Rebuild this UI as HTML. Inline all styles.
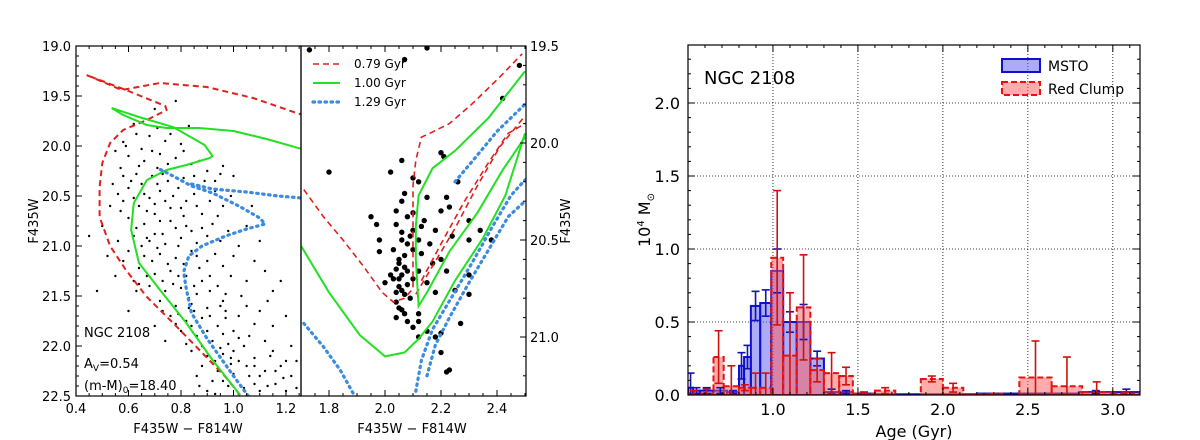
<!DOCTYPE html>
<html><head><meta charset="utf-8"><style>
body{margin:0;background:#fff}
svg{display:block;font-family:"DejaVu Sans","Liberation Sans",sans-serif}
</style></head><body>
<svg id="fig" width="1200" height="440" viewBox="0 0 1200 440">
<defs>
<clipPath id="clipL"><rect x="76" y="46" width="225" height="350"/></clipPath>
<clipPath id="clipR"><rect x="301" y="46" width="225" height="350"/></clipPath>
<clipPath id="clipH"><rect x="688" y="45" width="452" height="350"/></clipPath>
</defs>
<g id="gL"></g>
<g id="gR"></g>
<g id="gH"></g>
</svg>
<script>
// ---------- data ----------
const leftTickX=[0.4,0.6,0.8,1.0,1.2];
const leftTickY=[19.0,19.5,20.0,20.5,21.0,21.5,22.0,22.5];
const rightTickX=[1.8,2.0,2.2,2.4];
const rightTickY=[19.5,20.0,20.5,21.0];
const histTickX=[1.0,1.5,2.0,2.5,3.0];
const histTickY=[0.0,0.5,1.0,1.5,2.0];

const leftStars=[[0.78,19.55],[0.7,19.63],[0.83,19.8],[0.62,19.78],[0.68,19.9],[0.74,19.95],[0.58,19.96],[0.8,19.98],[0.65,20.03],
[0.55,20.05],[0.6,20.1],[0.66,20.15],[0.72,20.08],[0.78,20.12],[0.84,20.18],[0.9,20.25],[0.57,20.22],[0.63,20.28],[0.69,20.3],[0.75,20.35],[0.81,20.32],[0.87,20.4],[0.93,20.45],[0.6,20.42],[0.66,20.48],[0.72,20.45],[0.54,20.38],[1.0,20.3],[0.96,20.2],
[0.58,20.55],[0.64,20.6],[0.7,20.58],[0.76,20.62],[0.82,20.55],[0.88,20.68],[0.94,20.7],[0.6,20.72],[0.66,20.78],[0.72,20.75],[0.78,20.82],[0.84,20.85],[0.9,20.9],[0.62,20.9],[0.68,20.95],[0.74,20.98],[0.8,20.92],[0.86,20.97],[1.05,20.8],[0.5,20.8],[0.56,20.95],[0.96,20.6],[1.1,20.95],
[0.6,21.05],[0.66,21.1],[0.72,21.08],[0.78,21.12],[0.84,21.05],[0.9,21.15],[0.96,21.2],[0.64,21.22],[0.7,21.28],[0.76,21.25],[0.82,21.3],[0.88,21.35],[0.94,21.4],[0.68,21.4],[0.74,21.45],[0.8,21.42],[0.86,21.48],[1.0,21.1],[1.05,21.35],[0.55,21.3],[0.48,21.45],[1.12,21.25],
[0.72,21.55],[0.78,21.6],[0.84,21.58],[0.9,21.62],[0.96,21.55],[1.02,21.7],[0.76,21.7],[0.82,21.75],[0.88,21.72],[0.94,21.8],[1.0,21.85],[0.8,21.85],[0.86,21.9],[0.92,21.95],[0.98,21.98],[1.06,21.9],[1.1,21.65],[0.7,21.8],[0.6,21.65],[1.15,21.8],[0.74,21.95],
[0.84,22.05],[0.9,22.1],[0.96,22.08],[1.02,22.15],[1.08,22.12],[0.88,22.2],[0.94,22.25],[1.0,22.28],[1.06,22.3],[1.12,22.25],[0.92,22.35],[0.98,22.4],[1.04,22.42],[1.1,22.45],[1.16,22.38],[1.22,22.3],[1.2,22.45],[0.86,22.3],[1.14,22.1],[0.9,22.45],[1.18,22.2],[0.95,22.02],
[0.64,20.2],[0.71,20.22],[0.77,20.5],[0.85,20.3],[0.67,20.65],[0.73,20.88],[0.79,21.0],[0.87,21.22],[0.83,21.62],[0.97,21.65],[1.04,22.0],[0.99,22.18],[1.08,22.38],[0.62,21.35],[0.53,20.6],[0.81,20.7],[0.91,21.3],[0.77,21.38],[0.69,21.15],[0.61,20.35],
[0.63,19.88],[0.71,19.82],[0.76,19.88],[0.59,20.0],[0.69,20.05],[0.75,20.18],[0.81,20.05],[0.87,20.15],[0.93,20.35],[0.58,20.3],[0.65,20.38],[0.71,20.38],[0.79,20.42],[0.85,20.48],[0.91,20.55],[0.99,20.5],[0.56,20.48],[0.62,20.52],[0.68,20.52],[0.74,20.55],[0.8,20.62],[0.86,20.6],[0.92,20.78],[0.98,20.85],[0.57,20.65],[0.63,20.82],[0.7,20.68],[0.76,20.75],[0.82,20.8],[0.88,20.82],[0.95,20.95],[1.02,21.0],[0.58,21.15],[0.65,21.0],[0.71,21.02],[0.75,21.18],[0.81,21.18],[0.86,21.1],[0.93,21.08],[0.99,21.3],[1.08,21.15],[0.63,21.45],[0.67,21.3],[0.73,21.35],[0.79,21.3],[0.85,21.4],[0.91,21.45],[0.97,21.48],[1.03,21.5],[1.15,21.45],[0.73,21.65],[0.79,21.68],[0.85,21.65],[0.91,21.7],[0.97,21.72],[1.05,21.6],[1.08,21.78],[1.2,21.7],[0.78,21.78],[0.84,21.8],[0.9,21.85],[0.96,21.88],[1.02,21.92],[1.12,21.95],[1.22,22.0],[0.82,21.98],[0.88,22.0],[0.93,22.15],[0.99,22.12],[1.05,22.2],[1.1,22.3],[1.16,22.25],[1.24,22.15],[0.96,22.35],[1.02,22.48],[1.08,22.2],[1.13,22.4],[1.19,22.32],[1.24,22.42],[0.87,22.4],[0.93,22.48],[1.0,22.05],[1.15,22.05],[1.2,22.15],[0.7,20.88],[0.64,21.38],[1.07,20.6],[1.13,21.55],[0.52,21.1],[0.45,20.9],[1.18,21.35],[0.89,20.35],[0.95,20.28],[0.73,20.28],[0.67,20.92],[0.83,21.52],[0.95,21.6]];

const rightStars=[[1.73,19.52],[2.15,19.51],[2.07,19.57],[2.48,19.6],[2.42,19.77],[1.8,20.15],[2.02,20.15],[2.06,20.09],[2.2,20.05],[2.21,20.07],[2.26,20.2],[2.1,20.18],[2.12,20.2],[2.15,20.28],[2.22,20.28],[2.23,20.33],[2.07,20.26],[2.06,20.3],[2.04,20.35],[2.08,20.38],[2.1,20.36],[2.13,20.43],[2.14,20.4],[2.18,20.45],[2.2,20.35],[2.3,20.4],[2.34,20.45],[1.95,20.38],[1.97,20.42],[2.04,20.42],[2.06,20.46],[2.09,20.48],[2.12,20.5],[2.16,20.52],[2.24,20.48],[2.3,20.5],[2.38,20.5],[1.98,20.5],[1.98,20.56],[2.03,20.55],[2.05,20.6],[2.07,20.58],[2.1,20.55],[2.13,20.57],[2.17,20.62],[2.2,20.6],[2.04,20.65],[2.06,20.68],[2.08,20.66],[2.1,20.7],[2.12,20.66],[2.22,20.66],[2.0,20.72],[2.03,20.7],[2.05,20.74],[2.07,20.78],[2.09,20.8],[2.15,20.72],[2.18,20.77],[2.25,20.76],[2.3,20.78],[2.04,20.82],[2.06,20.86],[2.12,20.92],[2.08,20.92],[2.1,20.95],[2.15,20.97],[2.2,20.98],[2.18,21.0],[2.12,21.0],[2.2,21.08],[2.22,21.18],[2.23,21.17],[2.04,20.9],[2.3,20.68],[2.12,20.88],[2.27,20.93],
[2.05,20.62],[2.07,20.64],[2.05,20.7],[2.08,20.73],[2.06,20.76],[2.04,20.77],[2.05,20.85],[2.07,20.88],[2.02,20.68],[2.08,20.52],[2.06,20.5],[2.1,20.45]];

const isoRedL=[[1.025,22.49],[0.97,22.31],[0.87,22.04],[0.77,21.77],[0.67,21.51],[0.59,21.24],[0.53,21.0],[0.49,20.71],[0.49,20.41],[0.5,20.17],[0.53,19.97],[0.58,19.84],[0.67,19.74],[0.745,19.64],[0.74,19.6],[0.6,19.45],[0.44,19.29],[0.574,19.44],[0.72,19.37],[0.898,19.41],[1.075,19.52],[1.24,19.67],[1.3,19.72]];
const isoGreenL=[[1.025,22.49],[0.92,22.14],[0.82,21.77],[0.72,21.44],[0.64,21.17],[0.61,20.84],[0.62,20.57],[0.67,20.34],[0.745,20.24],[0.82,20.19],[0.91,20.12],[0.92,20.1],[0.89,19.99],[0.77,19.81],[0.64,19.71],[0.536,19.62],[0.58,19.69],[0.67,19.79],[0.745,19.82],[0.87,19.82],[1.0,19.85],[1.126,19.93],[1.26,20.03]];
const isoBlueL=[[1.07,22.55],[1.0,22.3],[0.9,21.93],[0.84,21.67],[0.82,21.43],[0.81,21.26],[0.83,21.1],[0.88,21.0],[0.97,20.9],[1.05,20.83],[1.12,20.78],[1.1,20.72],[1.02,20.6],[0.92,20.47],[0.84,20.4],[0.77,20.3],[0.71,20.22]];
const isoBlueL2=[[0.84,20.38],[0.92,20.43],[1.05,20.46],[1.17,20.5],[1.26,20.52]];
const isoRedR=[[1.71,20.24],[1.78,20.38],[1.85,20.5],[1.92,20.63],[1.99,20.77],[2.03,20.82],[2.07,20.8],[2.1,20.75],[2.1,20.48],[2.1,20.22],[2.11,20.09],[2.13,19.97],[2.16,19.95],[2.23,19.9],[2.31,19.8],[2.41,19.66],[2.49,19.54]];
const isoRedR2=[[2.11,20.78],[2.18,20.61],[2.25,20.44],[2.33,20.22],[2.41,20.02],[2.5,19.86]];
const isoRedR3=[[2.13,20.71],[2.2,20.52],[2.28,20.31],[2.37,20.1],[2.44,19.95],[2.5,19.9]];
const isoGreenR=[[1.7,20.53],[1.8,20.77],[1.91,20.99],[2.0,21.1],[2.07,21.08],[2.12,21.01],[2.17,20.92],[2.25,20.71],[2.35,20.49],[2.43,20.27],[2.5,19.95]];
const isoGreenR2=[[2.5,19.97],[2.42,20.14],[2.33,20.36],[2.23,20.56],[2.15,20.77],[2.12,20.84],[2.11,20.6],[2.11,20.43],[2.12,20.27],[2.17,20.13],[2.25,20.04],[2.37,19.87],[2.5,19.63]];
const isoBlueR=[[1.71,20.93],[1.78,21.05],[1.84,21.17],[1.89,21.3]];
const isoBlueR2=[[2.11,21.28],[2.13,21.12],[2.17,20.96],[2.24,20.79],[2.31,20.62],[2.38,20.44],[2.45,20.27],[2.5,20.19]];
const isoBlueR3=[[2.15,21.2],[2.18,21.04],[2.23,20.9],[2.3,20.72],[2.37,20.55],[2.44,20.38],[2.5,20.3]];
const isoBlueR4=[[2.25,20.2],[2.32,20.08],[2.4,19.94],[2.5,19.8]];

const blueEdges=[0.5,0.53,0.57,0.65,0.73,0.8,0.83,0.87,0.925,0.99,1.06,1.14,1.22,1.3,1.39,1.47,1.6,1.8,2.0,2.2,2.4,2.6,2.8,3.0,3.16];
const blueH=[0.05,0.03,0.03,0.03,0.02,0.2,0.26,0.61,0.63,0.85,0.5,0.5,0.25,0.02,0.02,0.01,0.005,0.005,0.005,0.01,0.01,0.01,0.02,0.02];
const blueErr=[0.1,0.02,0.02,0.02,0.01,0.09,0.08,0.1,0.09,0.15,0.07,0.12,0.05,0.02,0.01,0.01,0,0,0,0,0,0,0.01,0.02];
const redEdges=[0.5,0.57,0.65,0.71,0.8,0.87,0.925,0.99,1.06,1.14,1.22,1.3,1.39,1.47,1.6,1.72,1.87,2.0,2.12,2.2,2.28,2.35,2.45,2.64,2.82,2.99,3.16];
const redH=[0.01,0.01,0.26,0.06,0.05,0.05,0.05,0.94,0.27,0.6,0.17,0.15,0.13,0.01,0.03,0,0.11,0.05,0.005,0.005,0.01,0,0.12,0.06,0.02,0.01];
const redErr=[0.02,0.03,0.18,0.14,0.02,0.1,0.1,0.46,0.43,0.36,0.08,0.14,0.06,0.01,0.02,0,0.02,0.03,0,0,0,0,0.25,0.2,0.07,0.01];

// ---------- helpers ----------
const NS="http://www.w3.org/2000/svg";
function mk(tag,attrs,parent){const e=document.createElementNS(NS,tag);for(const k in attrs)e.setAttribute(k,attrs[k]);parent.appendChild(e);return e;}
function txt(parent,x,y,s,anchor,size,extra){const t=mk('text',Object.assign({x:x,y:y,'text-anchor':anchor||'middle','font-size':size||13,fill:'#000'},extra||{}),parent);t.textContent=s;return t;}

const lx=c=>76+(c-0.4)*262.5, ly=m=>46+(m-19.0)*100;
const rx=c=>301+(c-1.7)*280, ry=m=>46+(m-19.5)*194;
const hx=a=>688+(a-0.5)*(452/2.66), hy=v=>395-v*146;

function line(parent,pts,sx,sy,stroke,dash,w,name){
  const d=pts.map((p,i)=>(i?'L':'M')+sx(p[0]).toFixed(1)+' '+sy(p[1]).toFixed(1)).join(' ');
  const e=mk('path',{d:d,fill:'none',stroke:stroke,'stroke-width':w,'stroke-dasharray':dash||'none','stroke-linecap':dash&&dash.startsWith('1.5')?'round':'butt'},parent);
  
  
  return e;
}
const RED='#e0201c',GREEN='#22e022',BLUE='#3b8be0';

// ---------- left panel ----------
const gL=document.getElementById('gL');
const cL=mk('g',{'clip-path':'url(#clipL)'},gL);
leftStars.forEach(p=>{const c=mk('circle',{cx:lx(p[0]),cy:ly(p[1]),r:1.2,fill:'#000'},cL);

});
line(cL,isoRedL,lx,ly,RED,'6 4',2,'isochrone-0.79-gyr');
line(cL,isoGreenL,lx,ly,GREEN,'',2,'isochrone-1.00-gyr');
line(cL,isoBlueL,lx,ly,BLUE,'1.5 4.5',3.2,'isochrone-1.29-gyr');
line(cL,isoBlueL2,lx,ly,BLUE,'1.5 4.5',3.2,'isochrone-1.29-gyr-branch');
mk('rect',{x:76,y:46,width:225,height:350,fill:'none',stroke:'#000','stroke-width':1.2},gL);
for(let v=0.4;v<=1.26;v+=0.05){const x=lx(v),maj=Math.abs(v*5-Math.round(v*5))<1e-6;mk('line',{x1:x,x2:x,y1:396,y2:396-(maj?6:3),stroke:'#000'},gL);mk('line',{x1:x,x2:x,y1:46,y2:46+(maj?6:3),stroke:'#000'},gL);}
for(let v=19.0;v<=22.51;v+=0.1){const y=ly(v),maj=Math.abs(v*2-Math.round(v*2))<1e-6;mk('line',{x1:76,x2:76+(maj?6:3),y1:y,y2:y,stroke:'#000'},gL);}
leftTickX.forEach(v=>{const t=txt(gL,lx(v),413,v.toFixed(1));});
leftTickY.forEach(v=>{const t=txt(gL,71,ly(v)+5,v.toFixed(1),'end');});
let t=txt(gL,188,433,'F435W − F814W');
t=txt(gL,38,221,'F435W','middle',13,{transform:'rotate(-90 38 221)'});
t=txt(gL,84,337,'NGC 2108','start',13);
t=mk('text',{x:84,y:368,'font-size':13,fill:'#000'},gL);t.innerHTML='A<tspan font-size="9" dy="3">V</tspan><tspan dy="-3">=0.54</tspan>';

t=mk('text',{x:84,y:390,'font-size':13,fill:'#000'},gL);t.innerHTML='(m-M)<tspan font-size="9" dy="3">0</tspan><tspan dy="-3">=18.40</tspan>';


// ---------- right panel ----------
const gR=document.getElementById('gR');
const cR=mk('g',{'clip-path':'url(#clipR)'},gR);
rightStars.forEach(p=>{const c=mk('circle',{cx:rx(p[0]),cy:ry(p[1]),r:2.7,fill:'#000'},cR);

});
line(cR,isoRedR,rx,ry,RED,'6 4',1.6,'isochrone-0.79-gyr');
line(cR,isoRedR2,rx,ry,RED,'6 4',1.6,'isochrone-0.79-gyr-branch');
line(cR,isoRedR3,rx,ry,RED,'6 4',1.6,'isochrone-0.79-gyr-branch');
line(cR,isoGreenR,rx,ry,GREEN,'',2,'isochrone-1.00-gyr');
line(cR,isoGreenR2,rx,ry,GREEN,'',2,'isochrone-1.00-gyr-branch');
[isoBlueR,isoBlueR2,isoBlueR3,isoBlueR4].forEach(a=>line(cR,a,rx,ry,BLUE,'1.5 4.5',3.2,'isochrone-1.29-gyr'));
mk('rect',{x:301,y:46,width:225,height:350,fill:'none',stroke:'#000','stroke-width':1.2},gR);
for(let v=1.7;v<=2.5;v+=0.05){const x=rx(v),maj=Math.abs(v*5-Math.round(v*5))<1e-6;mk('line',{x1:x,x2:x,y1:396,y2:396-(maj?6:3),stroke:'#000'},gR);mk('line',{x1:x,x2:x,y1:46,y2:46+(maj?6:3),stroke:'#000'},gR);}
for(let v=19.5;v<=21.3;v+=0.1){const y=ry(v),maj=Math.abs(v*2-Math.round(v*2))<1e-6;mk('line',{x1:526,x2:526-(maj?6:3),y1:y,y2:y,stroke:'#000'},gR);}
rightTickX.forEach(v=>{const t=txt(gR,rx(v),413,v.toFixed(1));});
rightTickY.forEach(v=>{const t=txt(gR,530,ry(v)+5,v.toFixed(1),'start');});
t=txt(gR,412,433,'F435W − F814W');
t=txt(gR,570,221,'F435W','middle',13,{transform:'rotate(-90 570 221)'});
const lg=mk('g',{},gR);
mk('line',{x1:313,x2:340,y1:64,y2:64,stroke:RED,'stroke-width':1.6,'stroke-dasharray':'6 4'},lg);
mk('line',{x1:313,x2:340,y1:83,y2:83,stroke:GREEN,'stroke-width':2},lg);
mk('line',{x1:313,x2:340,y1:102,y2:102,stroke:BLUE,'stroke-width':3.2,'stroke-dasharray':'1.5 4.5','stroke-linecap':'round'},lg);
[['0.79 Gyr',64],['1.00 Gyr',83],['1.29 Gyr',102]].forEach(a=>{const t=txt(lg,354,a[1]+4,a[0],'start',12);});

// ---------- histogram ----------
const gH=document.getElementById('gH');
const grid=mk('g',{stroke:'#000','stroke-width':0.8,'stroke-dasharray':'1 2'},gH);
histTickX.forEach(v=>mk('line',{x1:hx(v),x2:hx(v),y1:45,y2:395},grid));
histTickY.slice(1).forEach(v=>mk('line',{x1:688,x2:1140,y1:hy(v),y2:hy(v)},grid));
const cH=mk('g',{'clip-path':'url(#clipH)'},gH);
function bars(edges,h,fill,stroke,dash,name){
  const g=mk('g',{},cH);
  for(let i=0;i<h.length;i++){if(h[i]<=0)continue;const x0=hx(edges[i]),x1=hx(edges[i+1]);
    const r=mk('rect',{x:x0,y:hy(h[i]),width:x1-x0,height:hy(0)-hy(h[i]),fill:fill,stroke:stroke,'stroke-width':2,'stroke-dasharray':dash},g);
    
    }
}
function errs(edges,h,e,col,name){
  const g=mk('g',{stroke:col,'stroke-width':1.6},cH);
  for(let i=0;i<h.length;i++){if(e[i]<=0)continue;const xc=hx((edges[i]+edges[i+1])/2);
    const yt=hy(h[i]+e[i]),yb=hy(Math.max(0,h[i]-e[i]));
    const l=mk('line',{x1:xc,x2:xc,y1:yt,y2:yb},g);
    
    
    mk('line',{x1:xc-4,x2:xc+4,y1:yt,y2:yt},g);mk('line',{x1:xc-4,x2:xc+4,y1:yb,y2:yb},g);}
}
bars(blueEdges,blueH,'rgba(90,90,235,0.5)','#1010d0','none','msto-bar');
bars(redEdges,redH,'rgba(255,90,90,0.5)','#e81010','6 3','red-clump-bar');
errs(blueEdges,blueH,blueErr,'#1010c0','msto-error-bar');
errs(redEdges,redH,redErr,'#d01010','red-clump-error-bar');
mk('rect',{x:688,y:45,width:452,height:350,fill:'none',stroke:'#000','stroke-width':1.2},gH);
for(let v=0.5;v<=3.16;v+=0.1){const x=hx(v),maj=Math.abs(v*2-Math.round(v*2))<1e-6;mk('line',{x1:x,x2:x,y1:395,y2:395-(maj?7:3),stroke:'#000'},gH);mk('line',{x1:x,x2:x,y1:45,y2:45+(maj?7:3),stroke:'#000'},gH);}
for(let v=0;v<=2.4;v+=0.1){const y=hy(v),maj=Math.abs(v*2-Math.round(v*2))<1e-6;mk('line',{x1:688,x2:688+(maj?7:3),y1:y,y2:y,stroke:'#000'},gH);mk('line',{x1:1140,x2:1140-(maj?7:3),y1:y,y2:y,stroke:'#000'},gH);}
histTickX.forEach(v=>{const t=txt(gH,hx(v),415,v.toFixed(1),'middle',16);});
histTickY.forEach(v=>{const t=txt(gH,680,hy(v)+6,v.toFixed(1),'end',16);});
t=txt(gH,914,437,'Age (Gyr)','middle',16);
t=mk('text',{x:650,y:220,'font-size':16,fill:'#000','text-anchor':'middle',transform:'rotate(-90 650 220)'},gH);
t.innerHTML='10<tspan font-size="10" dy="-6">4</tspan><tspan dy="6"> M</tspan><tspan font-size="10" dy="4">⊙</tspan>';

t=txt(gH,704,84,'NGC 2108','start',18);
const hl=mk('g',{},gH);
mk('rect',{x:1002,y:59,width:38,height:13,fill:'rgba(90,90,235,0.5)',stroke:'#1010d0','stroke-width':2},hl);
mk('rect',{x:1002,y:82,width:38,height:13,fill:'rgba(255,90,90,0.5)',stroke:'#e81010','stroke-width':2,'stroke-dasharray':'6 3'},hl);
t=txt(hl,1048,71,'MSTO','start',14);
t=txt(hl,1048,94,'Red Clump','start',14);
</script>
</body></html>
